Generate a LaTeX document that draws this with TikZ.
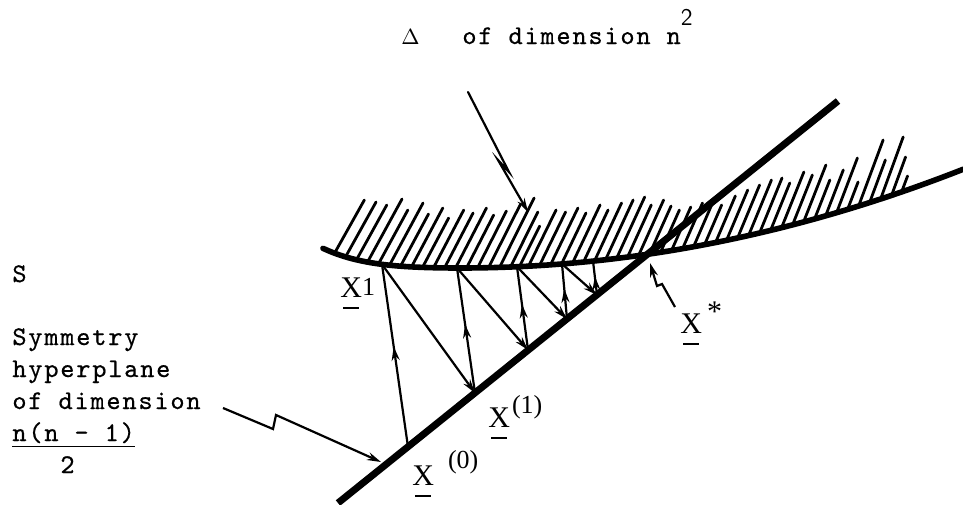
\documentclass[tikz,border=0pt]{standalone}
\usepackage{fontspec}
\setmainfont{Liberation Serif}
\setmonofont{lmmono10-regular.otf}[LetterSpace=6.7,FakeBold=0.6]
\usetikzlibrary{arrows.meta,decorations.markings}
\newcommand{\vx}{\leavevmode\rlap{\hspace{1.4pt}\rule[-6pt]{8pt}{0.8pt}}X}

\begin{document}
\begin{tikzpicture}[
  x=0.5pt,y=-0.5pt,
  declare function={su(\x)=(\x-460)/100;
    surf(\x)=268-3.9*su(\x)*su(\x)-3.5*(\x<460)*su(\x)*su(\x)*su(\x)*su(\x);},
  txt/.style={font=\ttfamily\fontsize{13.5}{16}\selectfont,inner sep=0pt},
  xlab/.style={font=\fontsize{15}{18}\selectfont,inner sep=0pt},
  plane/.style={line width=3.5pt},
  surface/.style={line width=2.8pt,line cap=round},
  hatch/.style={line width=1.4pt,line cap=round},
  arr/.style={line width=1.1pt,-{Stealth[length=7pt,width=4pt]}},
  ray/.style={line width=1.1pt,postaction={decorate},
    decoration={markings,mark=at position 0.55 with {\arrow{Stealth[length=7pt,width=4pt]}}}}
]
\useasboundingbox (0,0) rectangle (963,504);

% labels
\node[txt,anchor=base west] (dlabel) at (401,44) {\fontsize{11}{12}\selectfont$\Delta$};
\node[txt,anchor=base west] (dtext) at (462,44) {of dimension n\raisebox{9.5pt}{\sffamily\fontsize{12}{12}\selectfont 2}};
\node[txt,anchor=base west] (slabel) at (12,282) {S};
\node[txt,anchor=base west,align=left] (symlabel) at (12,473)
  {Symmetry\\hyperplane\\of dimension\\\underline{n(n - 1)}\\\hspace*{24pt}2};

% the set Delta, hatched above its boundary
\foreach \hx/\ht in {335/200, 346/202, 357/205, 368/199, 379/210, 390/203, 401/214,
    412/208, 423/218, 434/210, 445/213, 456/208, 467/215, 478/211, 489/205,
    500/198, 511/212, 520/226, 529/210, 540/212, 551/208, 562/213, 573/205,
    584/210, 595/203, 606/200, 617/197, 628/205, 639/200, 650/206, 661/210,
    672/207, 683/203, 694/200, 705/205, 716/196, 727/190, 738/185, 749/180,
    760/178, 771/183, 782/172, 793/175, 804/165, 815/180, 826/170, 837/158,
    848/182, 859/140, 870/160, 881/137, 892/157, 902/176}
  \draw[hatch] (\hx,{surf(\hx)-1}) -- ({\hx+(0.55-0.2*(\hx-335)/570)*(surf(\hx)-\ht)},\ht);
\draw[surface] plot[domain=323:963,samples=80,smooth] (\x,{surf(\x)});

% symmetry hyperplane
\coordinate (hpa) at (338,503);
\coordinate (hpb) at (838,101);
\draw[plane] (hpa) -- (hpb);

% iterates
\coordinate (p0) at (408,447);
\coordinate (p1) at (475,393);
\coordinate (p2) at (528,350);
\coordinate (p3) at (567,319);
\coordinate (p4) at (597,295);
\coordinate (v1) at (382,{surf(382)});
\coordinate (v2) at (457,{surf(457)});
\coordinate (v3) at (517,{surf(517)});
\coordinate (v4) at (562,{surf(562)});
\coordinate (v5) at (593,{surf(593)});
\draw[ray] (p0) -- (v1);
\draw[ray] (p1) -- (v2);
\draw[ray] (p2) -- (v3);
\draw[ray] (p3) -- (v4);
\draw[ray] (p4) -- (v5);
\draw[arr] (v1) -- (p1);
\draw[arr] (v2) -- (p2);
\draw[arr] (v3) -- (p3);
\draw[arr] (v4) -- (p4);

\node[xlab,anchor=base west] (xone) at (340,297) {\vx\raisebox{1pt}{\fontsize{13}{15}\selectfont 1}};
\node[xlab,anchor=base west] (xzero) at (412,485) {\vx\hspace{7pt}\raisebox{8.5pt}{\fontsize{13}{15}\selectfont(0)}};
\node[xlab,anchor=base west] (xfirst) at (488,427) {\vx\hspace{1pt}\raisebox{7pt}{\fontsize{13}{15}\selectfont(1)}};
\node[xlab,anchor=base west] (xstar) at (680,333) {\vx\hspace{2.5pt}\raisebox{6pt}{*}};

% pointers
\coordinate (dfrom) at (468,92);
\coordinate (dto) at (528,212);
\draw[arr,line cap=round] (dfrom) -- (509,172) -- (498,160) -- (dto);
\coordinate (sfrom) at (223,408);
\coordinate (sto) at (381,462);
\draw[arr] (sfrom) -- (273,429) -- (276,415) -- (sto);
\coordinate (xfrom) at (675,307);
\coordinate (xto) at (650,263);
\draw[arr] (xfrom) -- (662,284) -- (657,286) -- (xto);
\end{tikzpicture}
\end{document}
